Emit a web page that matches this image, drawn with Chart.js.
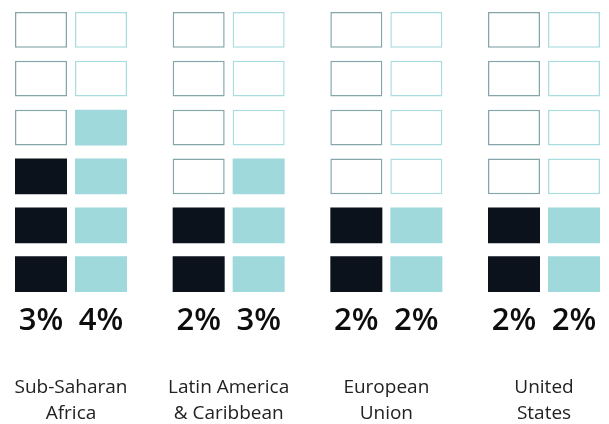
<!DOCTYPE html>
<html>
<head>
<meta charset="utf-8">
<script src="https://cdn.jsdelivr.net/npm/chart.js@4"></script>
<style>
  html, body { margin: 0; padding: 0; background: #fff; }
  #wrap { width: 609px; height: 424px; }
</style>
</head>
<body>
<div id="wrap"><canvas id="chart"></canvas></div>
<script>
// data
const categories = [["Sub-Saharan", "Africa"], ["Latin America", "& Caribbean"], ["European", "Union"], ["United", "States"]];
const darkValues = [3, 2, 2, 2];
const lightValues = [4, 3, 2, 2];
const rowCount = 6;

const DARK = "#0b121c", DARK_LINE = "#84a6ab";
const LIGHT = "#9fd9dc", LIGHT_LINE = "#aadde0";
const CELL = 0.73; // filled share of one row
const FAMILY = "'Open Sans', sans-serif";

function cellSet(values, row, stack, fill, line) {
  return {
    stack,
    data: categories.map(() => [row, row + CELL]),
    backgroundColor: ctx => values[ctx.dataIndex] > row ? fill : "#fff",
    borderColor: ctx => values[ctx.dataIndex] > row ? fill : line,
    borderWidth: ctx => values[ctx.dataIndex] > row ? 0 : 1.5,
  };
}

const datasets = [];
for (let r = 0; r < rowCount; r++) datasets.push(cellSet(darkValues, r, "dark", DARK, DARK_LINE));
for (let r = 0; r < rowCount; r++) datasets.push(cellSet(lightValues, r, "light", LIGHT, LIGHT_LINE));

// percent figures under each column
const pctLabels = {
  id: "pctLabels",
  afterDatasetsDraw(chart) {
    const c = chart.ctx;
    c.save();
    c.font = "600 31px " + FAMILY;
    c.fillStyle = "#0d0d0d";
    c.textAlign = "center";
    c.textBaseline = "middle";
    [[0, darkValues], [rowCount, lightValues]].forEach(([di, vals]) => {
      chart.getDatasetMeta(di).data.forEach((bar, i) => {
        c.fillText(vals[i] + "%", bar.x, 321);
      });
    });
    c.restore();
  }
};

function draw() {
  new Chart(document.getElementById("chart"), {
    type: "bar",
    data: { labels: categories, datasets },
    options: {
      responsive: true,
      maintainAspectRatio: false,
      animation: false,
      categoryPercentage: 0.761,
      barPercentage: 0.867,
      borderSkipped: false,
      clip: false,
      layout: { padding: { top: 12, left: 71, right: 65, bottom: 0 } },
      plugins: { legend: { display: false }, tooltip: { enabled: false } },
      scales: {
        x: {
          offset: false,
          grid: { display: false, drawTicks: false },
          border: { display: false },
          afterFit: s => { s.paddingLeft = 0; s.paddingRight = 0; s.height = 132; },
          ticks: {
            padding: 83, autoSkip: false, maxRotation: 0,
            color: "#222",
            font: { family: FAMILY, size: 19, lineHeight: "26px" }
          }
        },
        y: { display: false, stacked: false, min: 0, max: rowCount - 1 + CELL }
      }
    },
    plugins: [pctLabels]
  });
}

Promise.all([
  document.fonts.load("600 31px 'Open Sans'"),
  document.fonts.load("19px 'Open Sans'")
]).then(draw, draw);
</script>
</body>
</html>
